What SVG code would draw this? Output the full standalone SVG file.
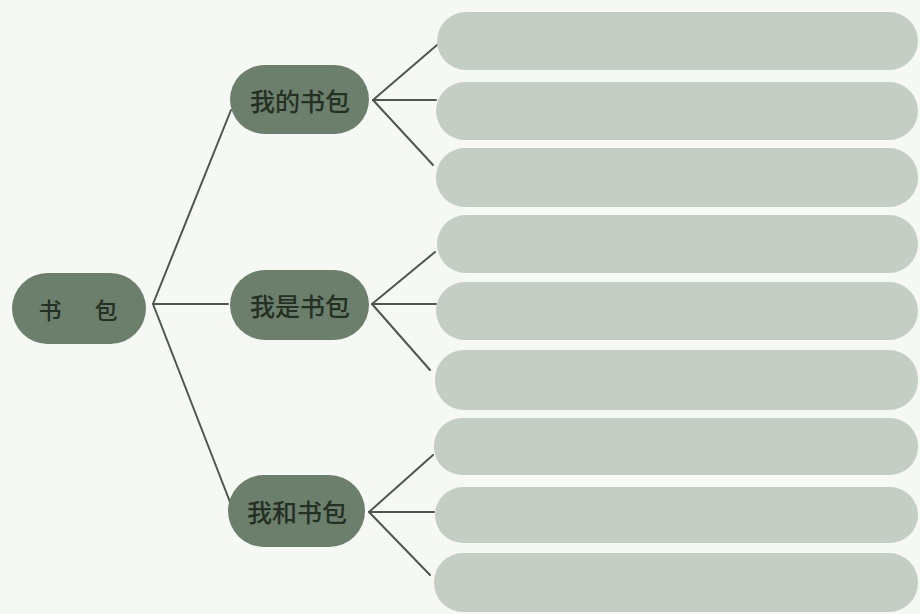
<svg xmlns="http://www.w3.org/2000/svg" width="920" height="614" viewBox="0 0 920 614">
<style>
.bg{fill:#f6f8f3}
.pill{fill:#6c7f6c}
.box{fill:#c4cec4}
.lbl{font-family:"Noto Sans CJK SC","Noto Sans CJK TC",sans-serif;font-size:25px;font-weight:500;fill:#253024;text-anchor:middle;dominant-baseline:central}
.root{font-size:23px}
.con line{stroke:#4d574e;stroke-width:2;stroke-linecap:round}
</style>
<rect class="bg" x="0" y="0" width="920" height="614"/>
<g id="connectors" class="con">
<line x1="153" y1="304" x2="231" y2="110"/>
<line x1="153" y1="304" x2="228" y2="304"/>
<line x1="153" y1="304" x2="230" y2="502"/>
<line x1="373" y1="100" x2="437" y2="45"/>
<line x1="373" y1="100" x2="436" y2="100"/>
<line x1="373" y1="100" x2="433" y2="165"/>
<line x1="372" y1="304" x2="435" y2="252"/>
<line x1="372" y1="304" x2="436" y2="304"/>
<line x1="372" y1="304" x2="430" y2="370"/>
<line x1="369" y1="512" x2="433" y2="455"/>
<line x1="369" y1="512" x2="434" y2="512"/>
<line x1="369" y1="512" x2="430" y2="575"/>
</g>
<g id="root">
<rect class="pill" x="12" y="273" width="134" height="71" rx="35.5"/>
<text class="lbl root" x="50" y="309">书</text>
<text class="lbl root" x="106" y="309">包</text>
</g>
<g id="n1">
<rect class="pill" x="230" y="65" width="139" height="69" rx="34.5"/>
<text class="lbl" x="300" y="100">我的书包</text>
</g>
<g id="n2">
<rect class="pill" x="230" y="270" width="139" height="70" rx="35"/>
<text class="lbl" x="300" y="305">我是书包</text>
</g>
<g id="n3">
<rect class="pill" x="228" y="475" width="137" height="72" rx="36"/>
<text class="lbl" x="297" y="511">我和书包</text>
</g>
<g id="b1"><rect class="box" x="437" y="12" width="481" height="58" rx="29"/></g>
<g id="b2"><rect class="box" x="436" y="82" width="482" height="58" rx="29"/></g>
<g id="b3"><rect class="box" x="436" y="148" width="482" height="59" rx="29"/></g>
<g id="b4"><rect class="box" x="437" y="215" width="481" height="58" rx="29"/></g>
<g id="b5"><rect class="box" x="436" y="282" width="482" height="58" rx="29"/></g>
<g id="b6"><rect class="box" x="435" y="350" width="483" height="60" rx="29"/></g>
<g id="b7"><rect class="box" x="434" y="418" width="484" height="57" rx="28"/></g>
<g id="b8"><rect class="box" x="435" y="487" width="483" height="56" rx="28"/></g>
<g id="b9"><rect class="box" x="434" y="553" width="484" height="59" rx="29"/></g>
</svg>
